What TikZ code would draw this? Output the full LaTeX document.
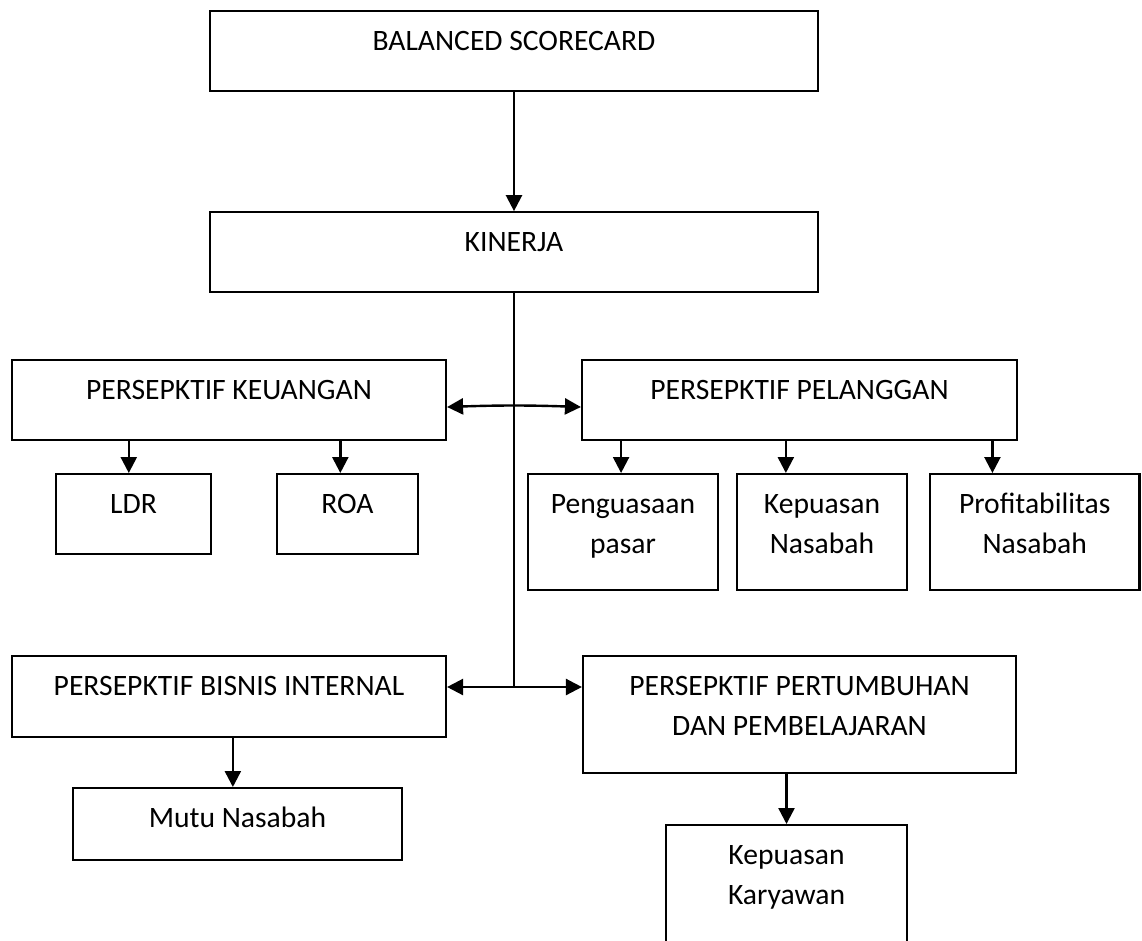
\documentclass[tikz,border=0pt]{standalone}
\usepackage{fontspec}
\setmainfont{Carlito}
\usetikzlibrary{arrows.meta}
\usetikzlibrary{positioning,calc}

\begin{document}
\begin{tikzpicture}[x=0.75pt,y=-0.75pt,>={Triangle[length=12pt,width=12pt]},
		kotak/.style={draw=black,line width=1.6pt,inner sep=0pt,anchor=north,align=flush center,
			font=\fontsize{22.2pt}{30.4pt}\selectfont,text height=29.25pt,text depth=30.75pt},
		panah/.style={->,line width=1.8pt},
		garis/.style={line width=0.9pt}]
		\useasboundingbox (0,0) rectangle (1142,940);
		\clip (0,0) rectangle (1142,940);

		\node[kotak,text width=456pt]  (bsc)  at (514,10)               {BALANCED SCORECARD};
		\node[kotak,text width=456pt]  (kin)  [below=89.25pt of bsc]     {KINERJA};
		\node[kotak,text width=325.5pt] (keu) at (229,359)              {PERSEPKTIF KEUANGAN};
		\node[kotak,text width=326.25pt] (pel) at (799.5,359)           {PERSEPKTIF PELANGGAN};
		\node[kotak,text width=116.25pt] (ldr) at (133.5,473)           {LDR};
		\node[kotak,text width=105.75pt] (roa) at (347.5,473)           {ROA};
		\node[kotak,text width=142.5pt,text depth=57.75pt] (pgs) at (623,473)    {Penguasaan\\pasar};
		\node[kotak,text width=127.5pt,text depth=57.75pt] (kpn) at (822,473)    {Kepuasan\\Nasabah};
		\node[kotak,text width=157.1pt,text depth=57.75pt] (prf) at (1034.75,473) {Profitabilitas\\Nasabah};
		\node[kotak,text width=325.5pt,text depth=31.5pt]  (bis) at (229,655)    {PERSEPKTIF BISNIS INTERNAL};
		\node[kotak,text width=324.75pt,text depth=58.5pt] (ptb) at (799.5,655)  {PERSEPKTIF PERTUMBUHAN\\DAN PEMBELAJARAN};
		\node[kotak,text width=246.75pt,text depth=24.75pt] (mutu) at (237.5,787) {Mutu Nasabah};
		\node[kotak,text width=180.75pt,text depth=75.75pt] (kry) at (786.5,824)  {Kepuasan\\Karyawan};

		% titik cabang pada garis tengah
		\coordinate (j1) at (514,407);
		\coordinate (j2) at (514,687);
		% titik masuk panah
		\coordinate (ldrIn)  at ($(ldr.north west)!.47!(ldr.north east)$);
		\coordinate (roaIn)  at ($(roa.north west)!.45!(roa.north east)$);
		\coordinate (pgsIn)  at ($(pgs.north west)!.49!(pgs.north east)$);
		\coordinate (kpnIn)  at ($(kpn.north west)!.29!(kpn.north east)$);
		\coordinate (prfIn)  at ($(prf.north west)!.30!(prf.north east)$);
		\coordinate (mutuIn) at ($(mutu.north west)!.486!(mutu.north east)$);
		\coordinate (kryIn)  at ($(kry.north west)!.5!(kry.north east)$);

		\draw[garis] (kin.south) -- (j2);

		\path[panah]
		(bsc) edge (kin)
		(keu.east |- j1) edge[<->,bend left=2] (pel.west |- j1)
		(bis.east |- j2) edge[<->] (ptb.west |- j2)
		(keu.south -| ldrIn) edge (ldrIn)
		(keu.south -| roaIn) edge (roaIn)
		(pel.south -| pgsIn) edge (pgsIn)
		(pel.south -| kpnIn) edge (kpnIn)
		(pel.south -| prfIn) edge (prfIn)
		(bis.south -| mutuIn) edge (mutuIn)
		(ptb.south -| kryIn) edge (kryIn);
\end{tikzpicture}
\end{document}
